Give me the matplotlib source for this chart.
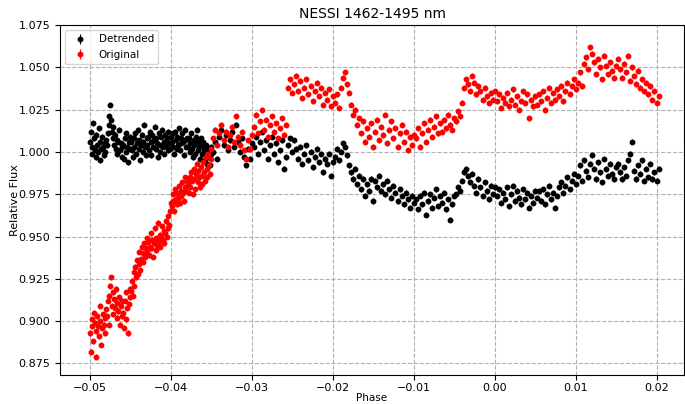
import matplotlib
matplotlib.use("Agg")
import matplotlib.pyplot as plt
import numpy as np

# ---- data ----
phase = [
    # dense part
    -0.0500, -0.0499, -0.0498, -0.0497, -0.0496, -0.0495, -0.0494, -0.0493, -0.0492, -0.0491,
    -0.0490, -0.0489, -0.0488, -0.0487, -0.0486, -0.0485, -0.0484, -0.0483, -0.0482, -0.0481, -0.0480,
    -0.0479, -0.0478, -0.0477, -0.0476, -0.0475, -0.0474, -0.0473, -0.0472, -0.0471, -0.0470,
    -0.0469, -0.0468, -0.0467, -0.0466, -0.0465, -0.0464, -0.0463, -0.0462, -0.0461, -0.0460,
    -0.0459, -0.0458, -0.0457, -0.0456, -0.0455, -0.0454, -0.0453, -0.0452, -0.0451, -0.0450,
    -0.0449, -0.0448, -0.0447, -0.0446, -0.0445, -0.0444, -0.0443, -0.0442, -0.0441, -0.0440,
    -0.0439, -0.0438, -0.0437, -0.0436, -0.0435, -0.0434, -0.0433, -0.0432, -0.0431, -0.0430,
    -0.0429, -0.0428, -0.0427, -0.0426, -0.0425, -0.0424, -0.0423, -0.0422, -0.0421, -0.0420,
    -0.0419, -0.0418, -0.0417, -0.0416, -0.0415, -0.0414, -0.0413, -0.0412, -0.0411, -0.0410,
    -0.0409, -0.0408, -0.0407, -0.0406, -0.0405, -0.0404, -0.0403, -0.0402, -0.0401, -0.0400,
    -0.0399, -0.0398, -0.0397, -0.0396, -0.0395, -0.0394, -0.0393, -0.0392, -0.0391, -0.0390,
    -0.0389, -0.0388, -0.0387, -0.0386, -0.0385, -0.0384, -0.0383, -0.0382, -0.0381, -0.0380,
    -0.0379, -0.0378, -0.0377, -0.0376, -0.0375, -0.0374, -0.0373, -0.0372, -0.0371, -0.0370,
    -0.0369, -0.0368, -0.0367, -0.0366, -0.0365, -0.0364, -0.0363, -0.0362, -0.0361, -0.0360,
    -0.0359, -0.0358, -0.0357, -0.0356, -0.0355, -0.0354, -0.0353, -0.0352, -0.0351, -0.0350,
    # sparse part
    -0.03475, -0.03450, -0.03425, -0.03400, -0.03375, -0.03350, -0.03325, -0.03300, -0.03275, -0.03250,
    -0.03225, -0.03200, -0.03175, -0.03150, -0.03125, -0.03100, -0.03075, -0.03050, -0.03025, -0.03000,
    -0.02975, -0.02950, -0.02925, -0.02900, -0.02875, -0.02850, -0.02825, -0.02800, -0.02775, -0.02750,
    -0.02725, -0.02700, -0.02675, -0.02650, -0.02625, -0.02600, -0.02575, -0.02550, -0.02525, -0.02500,
    -0.02475, -0.02450, -0.02425, -0.02400, -0.02375, -0.02350, -0.02325, -0.02300, -0.02275, -0.02250,
    -0.02225, -0.02200, -0.02175, -0.02150, -0.02125, -0.02100, -0.02075, -0.02050, -0.02025, -0.02000,
    -0.01975, -0.01950, -0.01925, -0.01900, -0.01875, -0.01850, -0.01825, -0.01800, -0.01775, -0.01750,
    -0.01725, -0.01700, -0.01675, -0.01650, -0.01625, -0.01600, -0.01575, -0.01550, -0.01525, -0.01500,
    -0.01475, -0.01450, -0.01425, -0.01400, -0.01375, -0.01350, -0.01325, -0.01300, -0.01275, -0.01250,
    -0.01225, -0.01200, -0.01175, -0.01150, -0.01125, -0.01100, -0.01075, -0.01050, -0.01025, -0.01000,
    -0.00975, -0.00950, -0.00925, -0.00900, -0.00875, -0.00850, -0.00825, -0.00800, -0.00775, -0.00750,
    -0.00725, -0.00700, -0.00675, -0.00650, -0.00625, -0.00600, -0.00575, -0.00550, -0.00525, -0.00500,
    -0.00475, -0.00450, -0.00425, -0.00400, -0.00375, -0.00350, -0.00325, -0.00300, -0.00275, -0.00250,
    -0.00225, -0.00200, -0.00175, -0.00150, -0.00125, -0.00100, -0.00075, -0.00050, -0.00025, 0.00000,
    0.00025, 0.00050, 0.00075, 0.00100, 0.00125, 0.00150, 0.00175, 0.00200, 0.00225, 0.00250,
    0.00275, 0.00300, 0.00325, 0.00350, 0.00375, 0.00400, 0.00425, 0.00450, 0.00475, 0.00500,
    0.00525, 0.00550, 0.00575, 0.00600, 0.00625, 0.00650, 0.00675, 0.00700, 0.00725, 0.00750,
    0.00775, 0.00800, 0.00825, 0.00850, 0.00875, 0.00900, 0.00925, 0.00950, 0.00975, 0.01000,
    0.01025, 0.01050, 0.01075, 0.01100, 0.01125, 0.01150, 0.01175, 0.01200, 0.01225, 0.01250,
    0.01275, 0.01300, 0.01325, 0.01350, 0.01375, 0.01400, 0.01425, 0.01450, 0.01475, 0.01500,
    0.01525, 0.01550, 0.01575, 0.01600, 0.01625, 0.01650, 0.01675, 0.01700, 0.01725, 0.01750,
    0.01775, 0.01800, 0.01825, 0.01850, 0.01875, 0.01900, 0.01925, 0.01950, 0.01975, 0.02000, 0.02025,
]

original = [
    0.893, 0.882, 0.901, 0.897, 0.888, 0.905, 0.899, 0.879, 0.894, 0.903,
    0.897, 0.891, 0.909, 0.900, 0.886, 0.896, 0.904, 0.898, 0.893, 0.902, 0.907,
    0.903, 0.912, 0.898, 0.915, 0.921, 0.926, 0.909, 0.917, 0.904, 0.913,
    0.908, 0.919, 0.902, 0.911, 0.906, 0.914, 0.898, 0.909, 0.903, 0.912,
    0.905, 0.896, 0.912, 0.901, 0.917, 0.908, 0.893, 0.910, 0.914, 0.919,
    0.918, 0.924, 0.915, 0.929, 0.921, 0.932, 0.926, 0.936, 0.928, 0.934,
    0.941, 0.930, 0.937, 0.944, 0.935, 0.940, 0.946, 0.938, 0.943, 0.949,
    0.941, 0.947, 0.939, 0.944, 0.952, 0.943, 0.948, 0.938, 0.946, 0.955,
    0.942, 0.949, 0.945, 0.958, 0.947, 0.951, 0.944, 0.950, 0.956, 0.948,
    0.953, 0.946, 0.952, 0.959, 0.950, 0.955, 0.962, 0.957, 0.965, 0.970,
    0.968, 0.975, 0.971, 0.965, 0.978, 0.972, 0.969, 0.976, 0.973, 0.980,
    0.970, 0.977, 0.974, 0.982, 0.976, 0.971, 0.979, 0.985, 0.977, 0.983,
    0.981, 0.976, 0.985, 0.979, 0.988, 0.983, 0.975, 0.990, 0.984, 0.978,
    0.987, 0.993, 0.982, 0.989, 0.985, 0.979, 0.991, 0.986, 0.981, 0.994,
    0.988, 0.983, 0.997, 0.990, 0.985, 0.999, 0.992, 0.987, 0.996, 1.002,
    1.008, 1.013, 1.004, 1.011, 1.016, 1.007, 1.012, 1.003, 1.010, 1.015,
    1.006, 1.021, 1.009, 1.004, 1.012, 1.001, 0.996, 1.007, 1.002, 1.010,
    1.015, 1.022, 1.011, 1.018, 1.025, 1.013, 1.019, 1.009, 1.016, 1.021,
    1.012, 1.017, 1.008, 1.014, 1.020, 1.010, 1.016, 1.038, 1.043, 1.035,
    1.040, 1.045, 1.036, 1.042, 1.032, 1.038, 1.043, 1.034, 1.039, 1.030,
    1.036, 1.041, 1.033, 1.038, 1.028, 1.035, 1.031, 1.037, 1.027, 1.033,
    1.029, 1.034, 1.026, 1.038, 1.044, 1.047, 1.040, 1.035, 1.028, 1.022,
    1.025, 1.016, 1.020, 1.011, 1.018, 1.006, 1.014, 1.009, 1.017, 1.003,
    1.012, 1.019, 1.007, 1.015, 1.010, 1.022, 1.005, 1.013, 1.018, 1.008,
    1.014, 1.003, 1.011, 1.016, 1.006, 1.012, 1.001, 1.009, 1.004, 1.010,
    1.008, 1.014, 1.003, 1.011, 1.017, 1.006, 1.013, 1.019, 1.009, 1.015,
    1.021, 1.011, 1.017, 1.012, 1.019, 1.014, 1.022, 1.016, 1.013, 1.020,
    1.018, 1.024, 1.021, 1.029, 1.038, 1.043, 1.040, 1.036, 1.045, 1.041,
    1.034, 1.039, 1.036, 1.031, 1.038, 1.033, 1.029, 1.035, 1.031, 1.036,
    1.030, 1.034, 1.026, 1.032, 1.029, 1.035, 1.027, 1.031, 1.037, 1.028,
    1.033, 1.025, 1.030, 1.036, 1.029, 1.034, 1.020, 1.031, 1.027, 1.033,
    1.028, 1.034, 1.030, 1.036, 1.025, 1.032, 1.038, 1.029, 1.035, 1.031,
    1.037, 1.033, 1.039, 1.030, 1.036, 1.041, 1.034, 1.039, 1.043, 1.037,
    1.041, 1.047, 1.039, 1.052, 1.056, 1.049, 1.062, 1.058, 1.053, 1.046,
    1.055, 1.050, 1.043, 1.057, 1.051, 1.046, 1.053, 1.048, 1.044, 1.051,
    1.055, 1.049, 1.044, 1.052, 1.047, 1.057, 1.042, 1.050, 1.045, 1.040,
    1.048, 1.038, 1.043, 1.036, 1.041, 1.034, 1.039, 1.031, 1.036, 1.029, 1.033,
]

detrended = [
    1.006, 1.012, 0.999, 1.003, 1.017, 1.008, 1.001, 0.997, 1.010, 1.004,
    1.000, 1.014, 1.006, 0.995, 1.002, 1.009, 1.003, 0.998, 1.005, 1.000, 1.007,
    1.004, 1.011, 1.016, 1.021, 1.028, 1.019, 1.012, 1.008, 1.015, 1.004,
    1.010, 1.002, 1.007, 0.999, 1.006, 1.013, 1.001, 1.005, 0.997, 1.003,
    1.004, 0.996, 1.008, 1.000, 1.011, 1.003, 0.994, 1.006, 1.002, 1.009,
    1.006, 1.001, 0.997, 1.008, 1.003, 1.011, 0.999, 1.005, 1.013, 1.002,
    1.007, 0.995, 1.004, 1.010, 1.000, 1.006, 1.016, 1.003, 0.998, 1.008,
    1.004, 1.009, 1.001, 1.012, 1.006, 0.998, 1.010, 1.003, 1.007, 1.015,
    1.002, 1.008, 1.005, 0.997, 1.011, 1.004, 1.000, 1.009, 1.013, 1.003,
    1.006, 0.999, 1.010, 1.004, 1.008, 1.001, 1.012, 1.005, 1.002, 1.009,
    1.006, 1.011, 1.003, 0.999, 1.012, 1.007, 1.002, 1.009, 1.004, 1.014,
    1.001, 1.008, 1.005, 1.011, 1.006, 0.998, 1.007, 1.013, 1.003, 1.008,
    1.003, 1.008, 1.000, 1.005, 1.011, 1.002, 0.997, 1.007, 1.004, 0.999,
    1.009, 1.013, 1.001, 1.006, 1.003, 0.996, 1.008, 1.004, 0.999, 1.006,
    1.001, 0.995, 1.004, 0.998, 0.993, 1.002, 0.997, 0.992, 0.999, 1.003,
    1.000, 1.006, 0.996, 1.009, 1.013, 1.004, 1.010, 1.001, 1.007, 1.012,
    1.003, 1.016, 1.006, 1.000, 1.008, 0.997, 0.992, 1.002, 0.996, 1.005,
    1.003, 1.009, 0.999, 1.006, 1.012, 1.001, 1.007, 0.996, 1.004, 1.009,
    0.999, 1.005, 0.994, 1.001, 1.007, 0.990, 0.997, 1.004, 1.008, 1.000,
    1.007, 1.002, 0.996, 1.003, 0.993, 0.999, 1.004, 0.995, 1.000, 0.991,
    0.997, 1.002, 0.994, 0.999, 0.988, 0.996, 0.993, 0.999, 0.986, 0.994,
    0.997, 1.002, 0.995, 1.000, 1.005, 1.003, 0.998, 0.992, 0.988, 0.984,
    0.990, 0.981, 0.986, 0.978, 0.984, 0.974, 0.981, 0.977, 0.984, 0.971,
    0.983, 0.979, 0.986, 0.977, 0.981, 0.975, 0.983, 0.978, 0.973, 0.980,
    0.976, 0.971, 0.978, 0.974, 0.969, 0.976, 0.972, 0.967, 0.974, 0.970,
    0.972, 0.966, 0.974, 0.969, 0.976, 0.963, 0.971, 0.975, 0.967, 0.973,
    0.978, 0.968, 0.974, 0.970, 0.976, 0.966, 0.972, 0.960, 0.969, 0.974,
    0.975, 0.979, 0.977, 0.983, 0.988, 0.990, 0.986, 0.982, 0.987, 0.980,
    0.976, 0.984, 0.979, 0.974, 0.982, 0.977, 0.972, 0.980, 0.975, 0.979,
    0.974, 0.978, 0.970, 0.976, 0.972, 0.979, 0.968, 0.975, 0.980, 0.971,
    0.977, 0.973, 0.969, 0.978, 0.972, 0.976, 0.967, 0.974, 0.970, 0.977,
    0.973, 0.977, 0.971, 0.978, 0.969, 0.975, 0.980, 0.972, 0.976, 0.967,
    0.974, 0.979, 0.982, 0.976, 0.980, 0.985, 0.978, 0.983, 0.987, 0.981,
    0.986, 0.992, 0.983, 0.995, 0.989, 0.985, 0.993, 0.998, 0.990, 0.984,
    0.994, 0.988, 0.982, 0.996, 0.990, 0.986, 0.993, 0.987, 0.984, 0.991,
    0.993, 0.988, 0.984, 0.991, 0.986, 0.995, 0.999, 1.006, 0.989, 0.984,
    0.992, 0.987, 0.995, 0.983, 0.990, 0.985, 0.993, 0.984, 0.988, 0.983, 0.990,
]

flux_err = 0.0015
title = "NESSI 1462-1495 nm"
xticks = [-0.05, -0.04, -0.03, -0.02, -0.01, 0.00, 0.01, 0.02]
yticks = [0.875, 0.900, 0.925, 0.950, 0.975, 1.000, 1.025, 1.050, 1.075]

# ---- plot ----
fig = plt.figure(figsize=(6.85, 4.04), dpi=100)
ax = fig.add_axes([0.0876, 0.071, 0.911, 0.867])

ax.errorbar(phase, detrended, yerr=flux_err, fmt='o', color='black', ms=3.2,
            elinewidth=0.8, label='Detrended', zorder=3)
ax.errorbar(phase, original, yerr=flux_err, fmt='o', color='red', ms=3.2,
            elinewidth=0.8, label='Original', zorder=3)

ax.set_xlim(-0.0537, 0.0234)
ax.set_ylim(0.868, 1.075)
ax.set_xticks(xticks)
ax.set_yticks(yticks)
ax.tick_params(labelsize=8)
ax.tick_params(axis='x', pad=2)
ax.grid(True, linestyle='--', color='#b0b0b0', linewidth=0.8)
ax.set_axisbelow(True)
ax.set_title(title, fontsize=10, pad=5)
ax.set_xlabel("Phase", fontsize=7.5, labelpad=0)
ax.set_ylabel("Relative Flux", fontsize=8)
ax.yaxis.set_label_coords(-0.064, 0.5)
ax.legend(loc='upper left', fontsize=7.5)

fig.savefig("out.png", dpi=100)
